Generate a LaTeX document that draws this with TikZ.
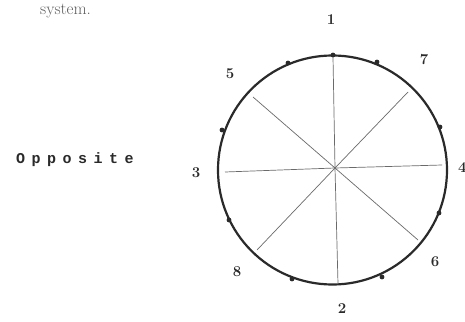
\documentclass[tikz,border=0pt]{standalone}
\usepackage{fontspec}
\newfontfamily\oppfont{Liberation Mono}
\definecolor{ink}{HTML}{2A2A2A}
\definecolor{spoke}{HTML}{6A6A6A}
\tikzset{
  lbl/.style={font=\fontsize{15}{15}\selectfont\bfseries, text=ink, inner sep=0pt},
  spk/.style={draw=spoke, line width=0.7pt},
  rim/.style={draw=ink, line width=2.2pt},
  bump/.style={fill=ink, draw=none},
}
\newcommand{\oppch}[1]{\makebox[15.5pt][c]{#1}}
\begin{document}
\begin{tikzpicture}[x=1pt,y=-1pt]
\useasboundingbox (0,0) rectangle (465,321);
\fill[white] (0,0) rectangle (465,321);
% rim
\draw[rim] (332.5,170) ellipse [x radius=114.5, y radius=114.5];
% spokes
\coordinate (c) at (335,168);
\coordinate (t) at (333,57);
\coordinate (b) at (338,284);
\coordinate (l) at (225,172);
\coordinate (r) at (442,165);
\coordinate (p5) at (253,97);
\coordinate (p6) at (418,240);
\coordinate (p7) at (408,92);
\coordinate (p8) at (257,250);
\foreach \p in {t,b,l,r,p5,p6,p7,p8} \draw[spk] (c) -- (\p);
% bumps on the rim
\foreach \x/\y in {333/55, 288/63, 377/62, 440/127, 222/130, 229/220, 439/213, 292/279, 382/277}
  \fill[bump] (\x,\y) circle (2.4);
% labels
\node[lbl] (n1) at (331,20) {1};
\node[lbl] (n2) at (342,309) {2};
\node[lbl] (n3) at (196,173) {3};
\node[lbl, anchor=west] (n4) at (458,168) {4};
\node[lbl] (n5) at (230,74) {5};
\node[lbl] (n6) at (435,262) {6};
\node[lbl] (n7) at (424,60) {7};
\node[lbl] (n8) at (237,272) {8};
\node[font=\oppfont\bfseries\fontsize{15}{15}\selectfont, text=ink, inner sep=0pt] (opp) at (75,160)
  {\oppch{O}\oppch{p}\oppch{p}\oppch{o}\oppch{s}\oppch{i}\oppch{t}\oppch{e}};
\node[font=\fontsize{17}{17}\selectfont, text=ink!75, inner sep=0pt, anchor=base west] (sys) at (40,15) {system.};
\end{tikzpicture}
\end{document}
